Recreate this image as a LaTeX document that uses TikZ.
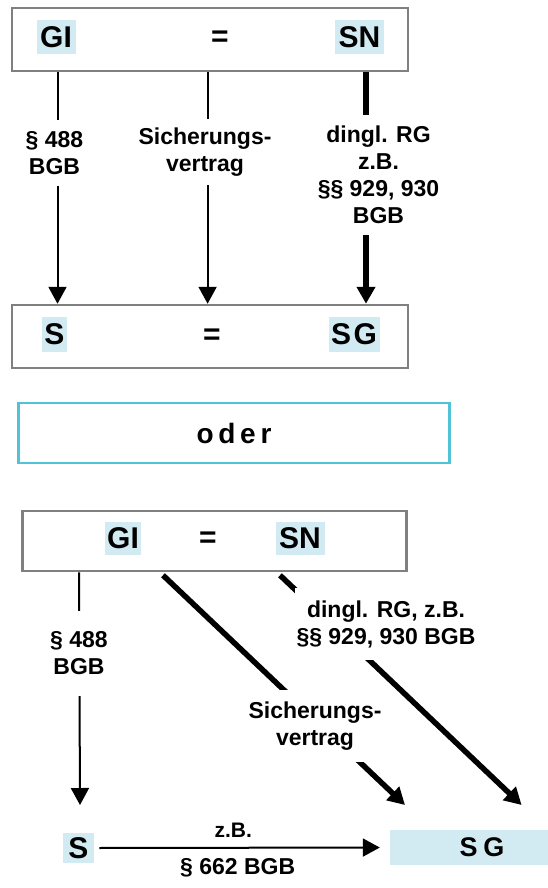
\documentclass[tikz,border=0pt]{standalone}
\usepackage{fontspec}
\setmainfont{Liberation Sans}
\usetikzlibrary{positioning,arrows.meta,calc}

\definecolor{hilite}{RGB}{210,235,242}
\definecolor{frameblue}{RGB}{80,195,215}
\newcommand\bigfont{\fontsize{30}{33}\selectfont\bfseries}
\newcommand\lawfont{\fontsize{23}{27}\selectfont\bfseries}

\begin{document}
\begin{tikzpicture}[
    x=1pt, y=-1pt,
    frame/.style={draw=gray, line width=2.5pt, minimum width=396pt, minimum height=63pt},
    party/.style={fill=hilite, font=\bigfont, inner sep=0pt, minimum height=34pt},
    equal/.style={font=\bigfont},
    law/.style={fill=white, font=\lawfont, align=center, inner sep=0pt},
    arrowthin/.style={-{Triangle[width=18pt,length=17pt]}, line width=2pt},
    arrowthick/.style={-{Triangle[width=18pt,length=17pt]}, line width=5.5pt}
]
\useasboundingbox (0,0) rectangle (547,888);

% Top box
\node[frame] (box1) at (210,39.5) {};
\node[party, minimum width=39pt] (gi1) at (56,37) {GI};
\node[equal] (eq1) at (220,39) {=};
\node[party, minimum width=49pt] (sn1) at (359.5,37) {SN};

% Second box
\node[frame] (box2) at (210,336.5) {};
\node[party, minimum width=25pt, minimum height=35pt] (s1) at (54.5,334.5) {S};
\node[equal] (eq2) at (212,337) {=};
\node[party, minimum width=51pt, minimum height=35pt, font=\bigfont\addfontfeatures{LetterSpace=8}] (sg1) at (354,334.5) {SG};

% Arrows between the boxes
\draw[arrowthin] ($(gi1 |- box1.south)+(1.5,0)$) -- ($(gi1 |- box2.north)+(1.5,0)$);
\draw[arrowthin] ($(box1.south)+(-2.4,0)$) -- ($(box2.north)+(-2.4,0)$);
\draw[arrowthick] ($(sn1 |- box1.south)+(6.5,0)$) -- ($(sn1 |- box2.north)+(6.5,0)$);

\node[law, minimum height=66pt] (lend1) at (54.5,153) {§ 488\\BGB};
\node[law, minimum height=66pt] (contract1) at (205,152) {Sicherungs-\\vertrag};
\node[law, minimum height=120pt] (right1) at (378.5,175) {dingl. RG\\z.B.\\§§ 929, 930\\BGB};

% oder
\node[draw=frameblue, line width=2.5pt, minimum width=431pt, minimum height=60pt,
      font=\fontsize{28}{31}\selectfont\bfseries\addfontfeatures{LetterSpace=17}] (oder) at (234,433) {oder};

% Bottom box
\node[frame, minimum width=384pt, minimum height=60pt] (box3) at (214.25,541) {};
\node[party, minimum width=36.6pt, minimum height=33pt] (gi3) at (123,538.5) {GI};
\node[equal] (eq3) at (208,540) {=};
\node[party, minimum width=49pt, minimum height=33pt] (sn3) at (300,538.5) {SN};

% Bottom row
\node[party, minimum width=31.4pt, minimum height=30pt] (s3) at (78.5,848) {S};
\node[party, minimum width=184pt, minimum height=35pt, font=\fontsize{27}{30}\selectfont\bfseries\addfontfeatures{LetterSpace=22}] (sg3) at (482,847.5) {SG};

\coordinate (tipleft) at (80,805);
\coordinate (tipmid) at (405,805);
\coordinate (tipright) at (521.6,805);

\draw[arrowthin] ($(box3.south west)+(58,0)$) -- (tipleft);
\draw[arrowthick] ($(box3.south west)+(142,3)$) -- (tipmid);
\draw[arrowthick] ($(box3.south west)+(259,3)$) -- (tipright);
\draw[arrowthin, shorten <=5pt, shorten >=10pt] (s3.east) -- (sg3.west)
    node[pos=0.47, above=9pt, inner sep=0pt, font=\fontsize{21}{24}\selectfont\bfseries] (zb3) {z.B.}
    node[pos=0.485, below=10pt, inner sep=0pt, font=\lawfont] (bgb3) {§ 662 BGB};

\node[law, minimum height=85pt] (lend3) at (79,653) {§ 488\\BGB};
\node[law, minimum height=72pt] (contract3) at (315,726) {Sicherungs-\\vertrag};
\node[law, minimum height=72pt, inner xsep=2pt] (right3) at (386,624) {dingl. RG, z.B.\\§§ 929, 930 BGB};

\end{tikzpicture}
\end{document}
